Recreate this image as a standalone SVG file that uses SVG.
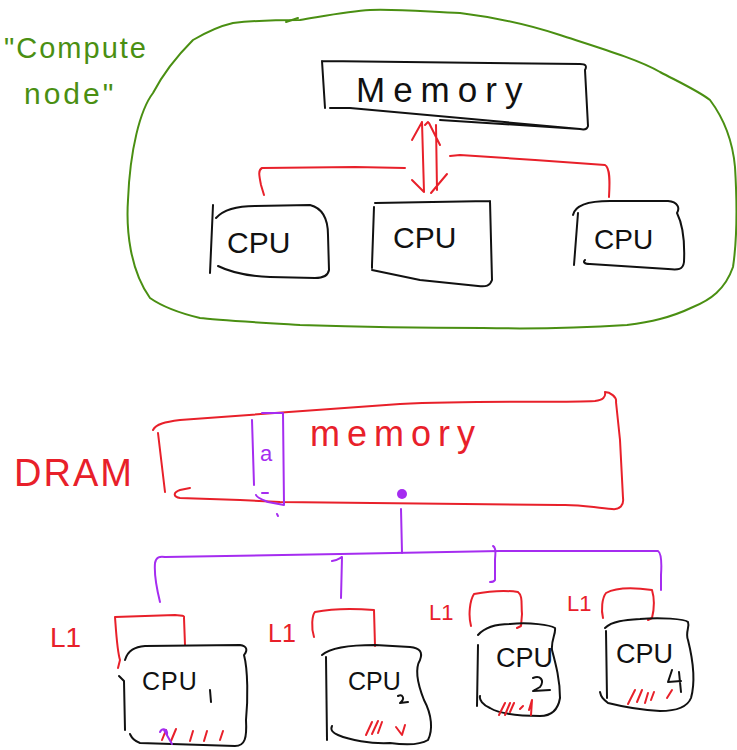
<svg xmlns="http://www.w3.org/2000/svg" width="737" height="750" viewBox="0 0 737 750">
<style>
  .ink{fill:none;stroke-linecap:round;stroke-linejoin:round;stroke-width:2}
  .blk{stroke:#111}
  .red{stroke:#e8202a}
  .grn{stroke:#4a8f12}
  .pur{stroke:#a52cf0}
  text{font-family:"Liberation Sans","DejaVu Sans",sans-serif}
  .tb{fill:#111}
  .tr{fill:#e8202a}
  .tg{fill:#4a8f12}
  .tp{fill:#a52cf0}
</style>
<rect width="737" height="750" fill="#fff"/>

<!-- compute node outline -->
<g id="compute-node">
  <path class="ink grn" d="M150,298 C130,270 126,230 128,200 C130,150 140,110 153,93 C165,70 178,55 193,40 C210,30 220,26 233,23 C260,20 285,20 300,20 C330,15 350,11 370,10 C400,9 430,12 460,13 C500,18 530,25 560,35 C600,48 640,60 660,72 C685,85 700,92 710,100 C725,120 733,145 735,167 C737,200 737,240 733,267 C725,290 710,300 693,307 C670,318 650,322 627,325 C580,328 530,329 483,328 C400,328 330,326 300,325 C250,322 215,320 200,318 C175,312 160,305 150,298 Z"/>
  <path class="ink grn" d="M286,22 L298,18"/>
  <text class="tg" x="4" y="58" font-size="29" letter-spacing="2">"Compute</text>
  <text class="tg" x="24" y="104" font-size="30" letter-spacing="3">node"</text>
</g>

<!-- upper memory -->
<g id="memory-top">
  <path class="ink blk" d="M322,61 L580,64 C586,64 587,66 585,70 L588,126 C587,130 584,130 580,129 L440,120 M322,61 L325,108 M330,108 L350,108 L580,129"/>
  <text class="tb" x="356" y="102" font-size="35" letter-spacing="8">Memory</text>
</g>

<!-- upper CPUs -->
<g id="cpu-a">
  <path class="ink blk" d="M213,205 L210,273 M216,218 C225,208 240,206 255,206 L310,205 C322,208 328,218 328,235 L329,270 C328,276 322,278 315,278 L270,277 C245,276 228,271 218,266"/>
  <text class="tb" x="227" y="253" font-size="30">CPU</text>
</g>
<g id="cpu-b">
  <path class="ink blk" d="M375,203 L490,201 M374,207 L372,265 L372,268 M490,201 L492,280 C490,286 486,287 478,286 L420,280 L372,270"/>
  <text class="tb" x="393" y="248" font-size="30">CPU</text>
</g>
<g id="cpu-c">
  <path class="ink blk" d="M573,215 C575,205 590,201 610,201 L668,201 C678,202 680,208 677,213 C683,225 685,240 684,262 C683,270 678,270 668,269 L590,264 C584,264 583,262 585,260 M578,213 L574,265"/>
  <text class="tb" x="594" y="249" font-size="28">CPU</text>
</g>

<!-- DRAM block -->
<g id="dram">
  <text class="tr" x="14" y="486" font-size="38" letter-spacing="2">DRAM</text>
  <path class="ink red" d="M153,430 C156,424 165,422 180,420 L400,404 C480,400 560,403 595,401 C603,400 606,397 605,392 C610,392 617,397 616,402 L620,440 L623,498 C624,505 620,510 612,509 C595,508 580,504 560,505 L280,502 L240,500 L180,498 C174,497 172,493 180,490 L190,488"/>
  <path class="ink red" d="M158,433 L165,492"/>
  <text class="tr" x="310" y="446" font-size="36" letter-spacing="7">memory</text>
</g>

<!-- cache line in DRAM -->
<g id="cache-line">
  <path class="ink pur" d="M252,420 L254,485 M262,413 L283,413 L284,505 L268,502 C263,500 257,498 256,495"/>
  <path class="ink pur" d="M277,514 L278,516"/>
  <text class="tp" x="260" y="461" font-size="22">a</text>
  <path class="ink pur" d="M262,493 L268,493"/>
</g>

<!-- connectors -->
<g id="connectors">
  <!-- top: memory <-> cpus -->
  <path class="ink red" d="M422,122 L424,192 M436,125 L437,190 M422,122 L412,140 M429,123 L440,145 M424,192 L412,180 M431,193 L447,174 M425,125 L428,122"/>
  <path class="ink red" d="M405,168 L355,167 L262,168 C258,170 259,175 261,185 L264,195"/>
  <path class="ink red" d="M450,156 L460,155 L535,160 L605,165 C610,168 610,180 609,197"/>
  <!-- bottom: DRAM bus -->
  <circle cx="402" cy="494" r="5" fill="#a52cf0"/>
  <path class="ink pur" d="M401,509 L402,553"/>
  <path class="ink pur" d="M160,602 C157,590 154,575 155,563 C156,557 160,556 165,557 L340,554 L500,551 L658,551 C661,553 662,560 661,575 L661,590"/>
  <path class="ink pur" d="M332,561 C338,560 340,558 342,557 L341,598 M493,546 C497,548 495,555 495,560 L495,580 C494,582 492,582 490,582"/>
  <!-- L1 caches -->
  <path class="ink red" d="M118,668 L120,660 C117,650 116,630 115,617 L175,615 C182,616 185,615 184,618 L185,645"/>
  <path class="ink red" d="M314,637 C311,628 312,615 315,612 C330,609 350,608 374,610 L375,646"/>
  <path class="ink red" d="M471,626 C468,615 470,600 474,594 C490,591 505,590 518,592 C523,596 521,604 522,614 L521,626 L517,628"/>
  <path class="ink red" d="M603,618 C601,610 602,598 606,593 C615,588 630,587 652,590 C655,600 654,610 652,618 L648,620"/>
  <text class="tr" x="50" y="647" font-size="28">L1</text>
  <text class="tr" x="268" y="642" font-size="25">L1</text>
  <text class="tr" x="429" y="620" font-size="22">L1</text>
  <text class="tr" x="567" y="611" font-size="22">L1</text>
</g>

<!-- lower CPUs -->
<g id="cpu-1">
  <path class="ink blk" d="M125,660 C128,650 135,647 145,646 L240,645 C247,646 248,650 244,655 C248,670 248,700 246,720 C247,738 245,746 235,746 L140,743 C132,740 131,736 130,734 M119,676 L124,681 L125,730"/>
  <text class="tb" x="142" y="690" font-size="25" letter-spacing="1">CPU</text>
  <path class="ink blk" d="M210,690 L211,702"/>
  <path class="ink red" d="M162,740 L166,730 M171,741 L176,729 M190,741 L193,731 M204,741 L207,731 M220,740 L223,731"/>
  <path class="ink pur" d="M160,732 C162,728 168,728 167,735 M164,730 L172,744"/>
</g>
<g id="cpu-2">
  <path class="ink blk" d="M322,655 C330,648 350,645 375,645 L410,647 C420,648 423,652 420,660 C414,670 418,685 424,700 C432,715 433,730 428,740 C420,745 405,745 390,743 C370,744 350,740 338,735 C333,733 330,730 332,726 M326,657 L327,740"/>
  <text class="tb" x="348" y="690" font-size="25">CPU</text>
  <path class="ink blk" d="M398,696 C402,694 406,698 400,703 L408,702"/>
  <path class="ink red" d="M366,735 L372,722 M372,734 L378,721 M378,733 L382,722 M396,727 L402,735 L405,725"/>
</g>
<g id="cpu-3">
  <path class="ink blk" d="M478,635 C485,627 495,624 510,624 C530,622 550,625 555,628 C556,634 551,640 552,650 C556,665 560,680 560,698 C558,710 552,716 540,716 C520,716 500,714 490,708 C483,705 479,700 480,696 M478,645 L477,706"/>
  <text class="tb" x="496" y="667" font-size="27">CPU</text>
  <path class="ink blk" d="M533,678 C540,675 545,680 540,687 L533,691 L550,690"/>
  <path class="ink red" d="M499,715 L505,703 M505,715 L510,703 M510,712 L514,703 M520,709 L523,706 M529,710 L532,700 L531,715"/>
</g>
<g id="cpu-4">
  <path class="ink blk" d="M605,628 C612,621 625,620 640,619 C660,617 685,619 688,622 C690,627 685,632 688,640 C693,660 696,680 691,698 C687,708 675,711 660,711 C640,710 620,706 608,703 C603,699 601,697 600,692 M606,631 L607,698"/>
  <text class="tb" x="616" y="663" font-size="27">CPU</text>
  <path class="ink blk" d="M672,670 L668,682 L681,681 M679,672 L681,692"/>
  <path class="ink red" d="M628,704 L635,690 M637,702 L642,690 M645,703 L648,693 M651,700 L654,692 M667,698 L672,690"/>
</g>
</svg>
